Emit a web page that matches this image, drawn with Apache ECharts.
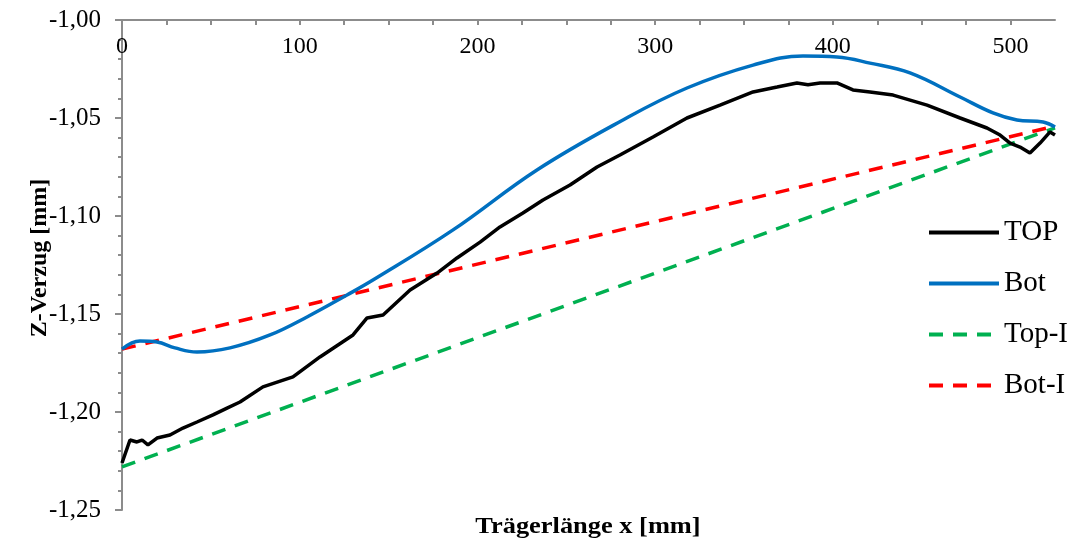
<!DOCTYPE html>
<html>
<head>
<meta charset="utf-8">
<script src="https://cdn.jsdelivr.net/npm/echarts@6/dist/echarts.min.js"></script>
<style>
html,body{margin:0;padding:0;background:#fff;}
#c{width:1083px;height:544px;}
</style>
</head>
<body>
<div id="c"></div>
<script>
// ---- data ----
const seriesNames = ['TOP', 'Bot', 'Top-I', 'Bot-I'];

const xTop = [0, 4.5, 8.4, 11.3, 14.6, 19.7, 27.0, 34.3, 42.2, 51.2, 59.1, 66.4, 79.3, 96.2, 111.4, 130.0, 137.9, 146.9, 162.1, 177.3, 188.5, 201.5, 212.7, 225.6, 236.9, 252.1, 267.3, 280.2, 298.8, 317.9, 336.5, 355.1, 368.6, 379.8, 386.0, 392.8, 402.3, 411.3, 420.9, 433.9, 453.0, 471.6, 486.7, 494.1, 499.7, 505.3, 510.9, 516.6, 522.2, 525];
const yTop = [-1.2260, -1.2143, -1.2153, -1.2143, -1.2168, -1.2133, -1.2117, -1.2082, -1.2051, -1.2015, -1.1980, -1.1949, -1.1872, -1.1821, -1.1719, -1.1607, -1.1520, -1.1505, -1.1378, -1.1291, -1.1214, -1.1133, -1.1056, -1.0985, -1.0918, -1.0842, -1.0750, -1.0689, -1.0597, -1.0500, -1.0434, -1.0367, -1.0342, -1.0321, -1.0330, -1.0321, -1.0321, -1.0357, -1.0367, -1.0383, -1.0434, -1.0500, -1.0551, -1.0587, -1.0628, -1.0648, -1.0679, -1.0628, -1.0571, -1.0587];

const xBot = [0, 10.1, 19.7, 29.8, 42.2, 60.8, 83.3, 104.1, 126.6, 141.2, 186.3, 233.5, 281.9, 317.9, 355.1, 383.2, 402.3, 420.9, 443.4, 471.6, 490.1, 503.6, 518.3, 525];
const yBot = [-1.1679, -1.1638, -1.1643, -1.1673, -1.1694, -1.1673, -1.1607, -1.1515, -1.1403, -1.1327, -1.1071, -1.0765, -1.0510, -1.0347, -1.0230, -1.0184, -1.0189, -1.0220, -1.0270, -1.0393, -1.0474, -1.0510, -1.0520, -1.0546];

const xTopI = [0, 525];
const yTopI = [-1.2280, -1.0550];

const xBotI = [0, 525];
const yBotI = [-1.1679, -1.0541];

const yTicks = ['-1,25', '-1,20', '-1,15', '-1,10', '-1,05', '-1,00'];
const xTickLabels = ['0', '100', '200', '300', '400', '500'];

// ---- chart ----
const pairs = (xs, ys) => xs.map((x, i) => [x, ys[i]]);
const font = '"Liberation Serif", "Times New Roman", serif';
const axisGray = '#8c8c8c';

const chart = echarts.init(document.getElementById('c'), null, {renderer: 'canvas'});

function lineSeries(name, data, color, dashed, smooth) {
  return {
    name: name,
    type: 'line',
    data: data,
    showSymbol: false,
    symbol: 'none',
    smooth: smooth,
    animation: false,
    lineStyle: {color: color, width: 3.5, type: dashed ? [14, 10] : 'solid'},
    itemStyle: {color: color}
  };
}

chart.setOption({
  animation: false,
  backgroundColor: '#fff',
  grid: {left: 122, right: 28, top: 20, bottom: 34},
  xAxis: {
    type: 'value',
    position: 'top',
    min: 0,
    max: 525,
    interval: 25,
    axisLine: {show: true, onZero: false, lineStyle: {color: axisGray, width: 2}},
    axisTick: {show: true, inside: true, length: 5, lineStyle: {color: axisGray, width: 2}},
    axisLabel: {
      inside: true,
      margin: 15,
      fontFamily: font,
      fontSize: 24,
      color: '#000',
      showMaxLabel: false,
      formatter: v => {
        const s = String(Math.round(v));
        return xTickLabels.indexOf(s) >= 0 ? s : '';
      }
    },
    splitLine: {show: false}
  },
  yAxis: {
    type: 'value',
    min: -1.25,
    max: -1.00,
    interval: 0.05,
    axisLine: {show: true, onZero: false, lineStyle: {color: axisGray, width: 2}},
    axisTick: {show: true, length: 7, lineStyle: {color: axisGray, width: 2}},
    minorTick: {show: true, splitNumber: 5, length: 4, lineStyle: {color: axisGray, width: 2}},
    axisLabel: {
      margin: 21,
      fontFamily: font,
      fontSize: 25,
      color: '#000',
      formatter: v => {
        const idx = Math.round((v + 1.25) / 0.05);
        return yTicks[idx] !== undefined ? yTicks[idx] : '';
      }
    },
    splitLine: {show: false}
  },
  legend: {
    orient: 'vertical',
    left: 927,
    top: 218,
    padding: 0,
    itemWidth: 70,
    itemHeight: 14,
    itemGap: 22,
    data: seriesNames,
    itemStyle: {opacity: 0},
    lineStyle: {width: 4},
    textStyle: {fontFamily: font, fontSize: 29, color: '#000'}
  },
  graphic: [
    {
      type: 'text',
      x: 40, y: 258,
      rotation: Math.PI / 2,
      style: {text: 'Z-Verzug [mm]', font: 'bold 24px ' + font, fill: '#000', align: 'center', verticalAlign: 'middle'}
    },
    {
      type: 'text',
      x: 588, y: 527,
      scaleX: 1.1,
      style: {text: 'Trägerlänge x [mm]', font: 'bold 24px ' + font, fill: '#000', align: 'center', verticalAlign: 'middle'}
    }
  ],
  series: [
    lineSeries('Top-I', pairs(xTopI, yTopI), '#00B050', true, false),
    lineSeries('Bot-I', pairs(xBotI, yBotI), '#FF0000', true, false),
    lineSeries('Bot', pairs(xBot, yBot), '#0070C0', false, 0.4),
    lineSeries('TOP', pairs(xTop, yTop), '#000000', false, false)
  ]
});
</script>
</body>
</html>
